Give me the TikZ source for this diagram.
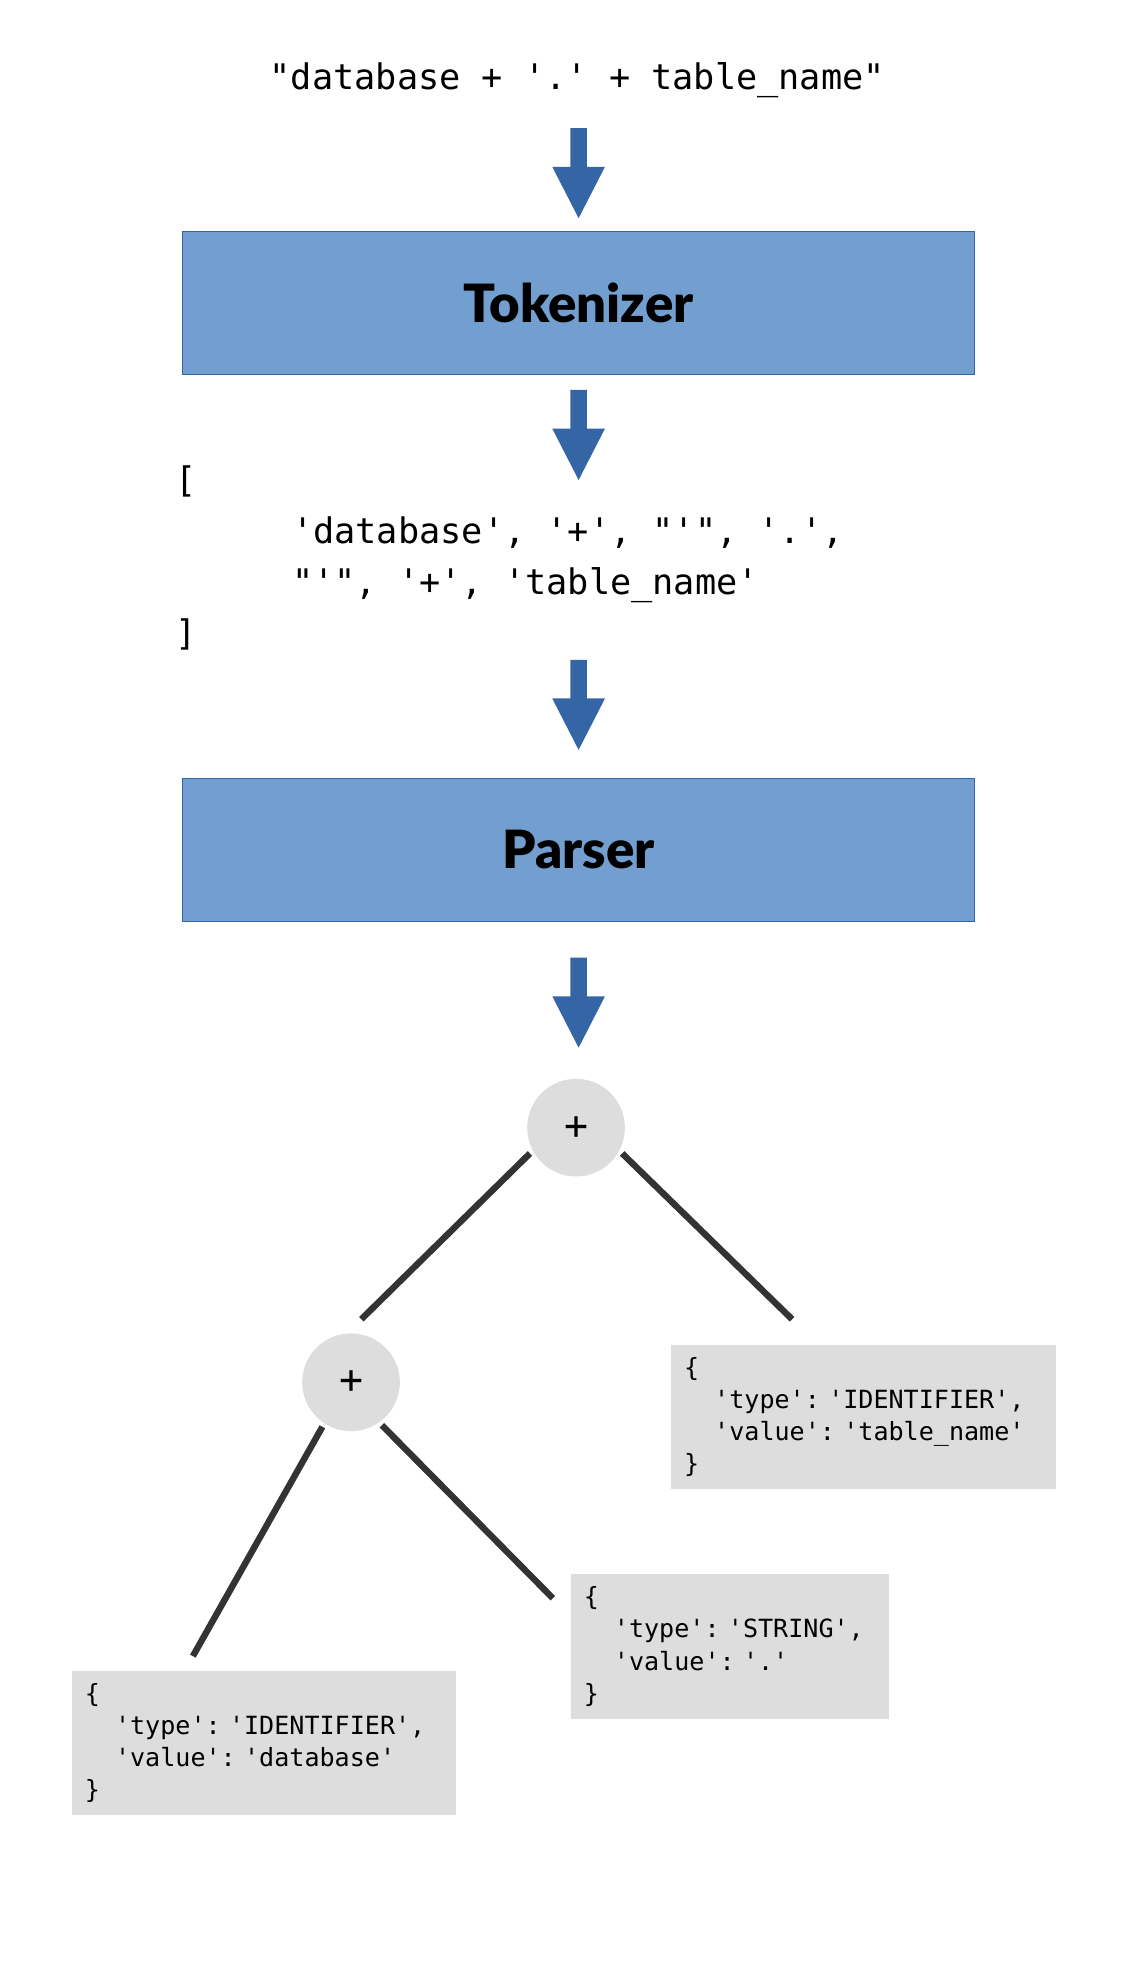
\documentclass[tikz,border=0pt]{standalone}
\usepackage{fontspec}
\usetikzlibrary{calc}
\newfontfamily\codefont{DejaVu Sans Mono}
\newfontfamily\titlefont{Lato Black}
\definecolor{arrowc}{HTML}{3465A4}
\definecolor{boxc}{HTML}{729FCF}
\definecolor{nodec}{HTML}{DDDDDD}
\definecolor{edgec}{HTML}{333333}
\frenchspacing
\begin{document}
\begin{tikzpicture}[x=1pt,y=-1pt,
  stage/.style={rectangle, fill=boxc, draw=arrowc, line width=0.6pt,
    minimum width=616pt, minimum height=111pt, inner sep=0pt,
    font=\titlefont\fontsize{41}{50}\selectfont},
  codetext/.style={inner sep=0pt, font=\codefont\fontsize{27.4}{39.5}\selectfont},
  leaf/.style={rectangle, fill=nodec, inner xsep=10pt, inner ysep=0pt,
    minimum height=112pt, align=left,
    font=\codefont\fontsize{19.5}{25}\selectfont},
  opnode/.style={circle, fill=nodec, minimum size=76pt, inner sep=0pt,
    font=\codefont\fontsize{31}{31}\selectfont},
  edge/.style={draw=edgec, line width=5pt, line cap=butt},
  downarrow/.pic={\fill[arrowc] (-6.5,0) -- (6.5,0) -- (6.5,30) -- (20.5,30)
    -- (0,70) -- (-20.5,30) -- (-6.5,30) -- cycle;}
]
\useasboundingbox (0,0) rectangle (882,1543);

% input expression
\node[codetext] (expr) at (449,62) {"database + '.' + table\_name"};

% stages
\node[stage] (tok) at (450,235.5) {Tokenizer};
\node[codetext, anchor=west, align=left] (toks) at (136,434)
  {[\\\hspace*{91pt}'database', '+', "'", '.',\\\hspace*{91pt}"'", '+', 'table\_name'\\]};
\node[stage] (par) at (450,661) {Parser};

% flow arrows
\pic at ([yshift=80pt]tok.north) {downarrow};
\pic at ([yshift=-12pt]tok.south) {downarrow};
\pic at ([yshift=92pt]par.north) {downarrow};
\pic at ([yshift=-28pt]par.south) {downarrow};

% tree
\node[opnode] (root) at (448,877) {+};
\node[opnode] (lc) at (273,1075) {+};
\node[leaf, text width=279pt] (rleaf) at (671.5,1102)
  {\{\\\phantom{xx}'type': 'IDENTIFIER',\\\phantom{xx}'value': 'table\_name'\\\}};
\node[leaf, text width=227pt] (sleaf) at (567.5,1280.5)
  {\{\\\phantom{xx}'type': 'STRING',\\\phantom{xx}'value': '.'\\\}};
\node[leaf, text width=279pt] (dleaf) at (205.5,1355.5)
  {\{\\\phantom{xx}'type': 'IDENTIFIER',\\\phantom{xx}'value': 'database'\\\}};

\coordinate (e1) at (281,1026);
\coordinate (e2) at (616,1026);
\coordinate (e3) at (150,1288);
\coordinate (e4) at (430,1243);
\draw[edge, shorten <=3pt] (root.208) -- (e1);
\draw[edge, shorten <=3pt] (root.332) -- (e2);
\draw[edge, shorten <=3pt] (lc.237) -- (e3);
\draw[edge, shorten <=3pt] (lc.305) -- (e4);
\end{tikzpicture}
\end{document}
